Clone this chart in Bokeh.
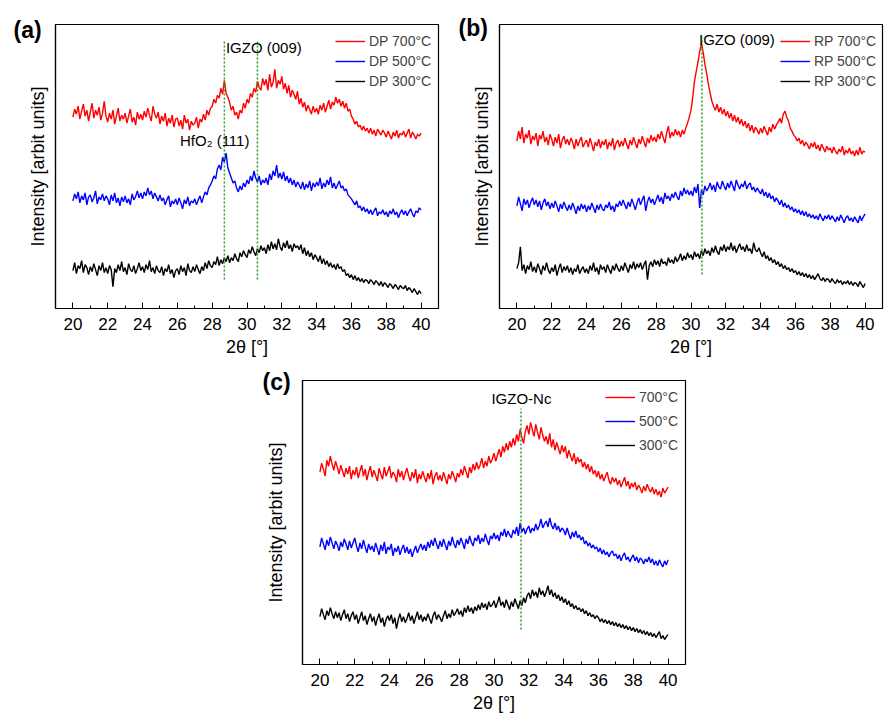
from bokeh.plotting import figure
from bokeh.models import Range1d, FixedTicker, Label, Spacer
from bokeh.layouts import column, row
from bokeh.embed import file_html
from bokeh.resources import INLINE

# scans run 20-40 deg with a 0.1 deg step, intensities in arbitrary units (offset per curve)
TT_START = 20.0
TT_STEP = 0.1

x_ticks = [20, 22, 24, 26, 28, 30, 32, 34, 36, 38, 40]
x_minor = [21, 23, 25, 27, 29, 31, 33, 35, 37, 39]

# (a) DP samples
dp700 = [192, 200, 195, 203, 190, 198, 205, 193, 199, 188,
         197, 206, 191, 199, 194, 202, 189, 196, 208, 193,
         187, 196, 190, 199, 185, 193, 201, 188, 194, 190,
         196, 186, 193, 200, 187, 192, 184, 197, 190, 195,
         189, 198, 192, 201, 194, 188, 203, 195, 191, 197,
         185, 193, 188, 196, 183, 191, 186, 194, 182, 190,
         191, 183, 189, 180, 194, 186, 190, 179, 188, 184,
         186, 192, 181, 190, 187, 195, 189, 199, 194, 201,
         203, 210, 206, 214, 211, 221, 215, 229, 216, 212,
         207, 199, 203, 194, 197, 190, 199, 196, 206, 201,
         210, 206, 216, 212, 221, 217, 228, 222, 219, 231,
         224, 230, 219, 235, 222, 227, 240, 221, 229, 225,
         233, 220, 226, 216, 224, 212, 219, 215, 210, 218,
         205, 211, 202, 207, 198, 204, 200, 195, 203, 197,
         201, 195, 204, 199, 206, 197, 203, 209, 200, 207,
         204, 212, 206, 210, 203, 208, 201, 206, 198, 200,
         193, 190, 185, 188, 182, 184, 179, 183, 178, 181,
         176, 181, 175, 179, 173, 180, 177, 174, 179, 176,
         172, 178, 174, 170, 177, 173, 179, 171, 176, 174,
         178, 172, 176, 180, 171, 177, 174, 170, 175, 173,
         176]
dp500 = [108, 115, 110, 117, 106, 113, 109, 116, 104, 112,
         114, 107, 111, 118, 105, 112, 109, 115, 108, 113,
         110, 104, 114, 108, 116, 106, 111, 103, 112, 107,
         113, 106, 110, 104, 115, 109, 112, 118, 111, 116,
         110, 117, 113, 121, 114, 118, 110, 116, 112, 108,
         114, 108, 111, 104, 109, 113, 102, 108, 105, 110,
         104, 111, 106, 100, 109, 105, 112, 103, 108, 106,
         110, 104, 109, 113, 106, 112, 117, 114, 121, 124,
         128, 133, 130, 140, 144, 139, 152, 147, 156, 141,
         136, 131, 126, 128, 121, 117, 123, 119, 126, 122,
         129, 125, 133, 128, 138, 131, 127, 133, 124, 129,
         126, 131, 124, 135, 129, 138, 133, 144, 131, 136,
         130, 137, 128, 133, 126, 131, 124, 129, 122, 127,
         124, 120, 127, 119, 125, 121, 128, 118, 126, 122,
         127, 123, 131, 120, 126, 122, 129, 124, 132, 121,
         126, 120, 124, 128, 121, 123, 118, 120, 114, 112,
         110, 107, 104, 108, 101, 103, 98, 102, 97, 100,
         95, 99, 94, 98, 101, 93, 97, 95, 99, 94,
         97, 92, 98, 95, 100, 94, 97, 91, 96, 99,
         94, 98, 93, 97, 100, 95, 92, 98, 96, 101,
         99]
dp300 = [38, 46, 35, 43, 40, 48, 36, 44, 41, 34,
         42, 37, 45, 39, 33, 43, 38, 46, 36, 41,
         35, 43, 39, 22, 40, 36, 44, 38, 47, 37,
         41, 34, 45, 39, 37, 43, 35, 40, 46, 38,
         42, 36, 44, 39, 48, 37, 41, 35, 43, 38,
         36, 42, 33, 40, 37, 44, 35, 39, 31, 38,
         40, 34, 43, 37, 41, 33, 45, 38, 36, 42,
         37, 44, 39, 35, 42, 38, 46, 40, 48, 43,
         41, 47, 44, 52, 43, 49, 45, 51, 47, 53,
         46, 51, 48, 55, 50, 47, 56, 52, 58, 54,
         51, 59, 55, 62, 57, 53, 60, 56, 63, 58,
         61, 55, 64, 58, 67, 60, 65, 59, 70, 62,
         58, 66, 61, 68, 60, 64, 57, 65, 61, 63,
         59, 64, 55, 61, 53, 58, 52, 56, 49, 54,
         51, 47, 53, 45, 50, 44, 48, 42, 46, 41,
         44, 39, 45, 40, 42, 37, 39, 33, 35, 31,
         34, 29, 33, 28, 31, 27, 30, 26, 29, 28,
         25, 29, 27, 24, 28, 26, 23, 27, 22, 26,
         24, 21, 25, 23, 20, 24, 22, 19, 23, 21,
         20, 23, 18, 21, 19, 16, 20, 17, 14, 18,
         15]

# (b) RP samples
rp700 = [168, 178, 170, 182, 166, 175, 171, 179, 165, 173,
         169, 176, 163, 174, 170, 178, 167, 172, 164, 175,
         170, 163, 172, 166, 175, 161, 169, 173, 165, 170,
         164, 171, 167, 160, 170, 163, 168, 172, 162, 166,
         169, 162, 171, 165, 158, 167, 163, 170, 161, 168,
         164, 170, 160, 167, 163, 171, 159, 166, 169, 162,
         168, 163, 171, 165, 160, 169, 164, 172, 166, 161,
         170, 165, 173, 167, 162, 171, 166, 174, 168, 172,
         167, 175, 170, 178, 172, 166, 176, 183, 171, 177,
         173, 180, 174, 178, 172, 179, 175, 181, 186, 192,
         199, 212, 228, 238, 247, 258, 266, 257, 245, 236,
         225, 216, 208, 203, 199, 205, 197, 202, 195, 200,
         193, 198, 191, 196, 188, 194, 187, 192, 185, 190,
         183, 188, 181, 186, 178, 184, 176, 182, 179, 175,
         181, 176, 183, 178, 174, 182, 177, 185, 180, 184,
         187, 191, 186, 195, 198, 192, 188, 181, 178, 174,
         172, 168, 171, 165, 169, 163, 167, 164, 160, 166,
         162, 167, 160, 164, 158, 165, 161, 157, 163, 159,
         161, 156, 162, 158, 155, 160, 157, 163, 154, 159,
         156, 161, 155, 158, 153, 159, 154, 162, 155, 158,
         157]
rp500 = [103, 112, 105, 98, 110, 104, 109, 101, 107, 111,
         104, 109, 102, 108, 99, 106, 110, 103, 107, 100,
         106, 101, 108, 103, 97, 105, 100, 107, 102, 98,
         104, 99, 106, 101, 95, 103, 98, 105, 100, 104,
         97, 103, 99, 106, 101, 96, 104, 99, 105, 100,
         98, 104, 101, 107, 99, 103, 97, 105, 102, 108,
         103, 109, 104, 100, 107, 102, 110, 105, 99, 106,
         111, 104, 109, 113, 98, 107, 112, 106, 110, 104,
         109, 114, 107, 112, 105, 116, 110, 113, 108, 115,
         111, 117, 112, 109, 118, 113, 121, 115, 119, 114,
         118, 113, 122, 116, 125, 101, 119, 114, 123, 118,
         121, 126, 119, 124, 117, 127, 122, 120, 128, 123,
         119, 126, 121, 128, 123, 118, 129, 124, 120, 125,
         122, 128, 120, 124, 126, 119, 122, 117, 121, 118,
         115, 120, 113, 117, 111, 116, 110, 113, 107, 111,
         108, 104, 109, 102, 106, 101, 104, 99, 102, 97,
         100, 96, 99, 94, 98, 93, 97, 92, 95, 91,
         94, 90, 93, 89, 95, 91, 88, 93, 90, 94,
         89, 93, 90, 87, 92, 88, 94, 90, 86, 91,
         93, 88, 91, 87, 92, 89, 86, 93, 88, 92,
         95]
rp300 = [40, 46, 62, 38, 44, 35, 43, 39, 47, 37,
         42, 36, 45, 40, 34, 43, 38, 46, 39, 35,
         41, 37, 44, 33, 40, 45, 36, 42, 38, 43,
         36, 41, 34, 40, 37, 44, 35, 39, 42, 36,
         40, 35, 43, 38, 46, 37, 41, 34, 44, 39,
         42, 36, 44, 39, 35, 43, 38, 45, 40, 37,
         43, 38, 46, 41, 36, 44, 40, 47, 39, 45,
         41, 46, 39, 44, 48, 29, 43, 47, 42, 49,
         44, 48, 42, 50, 45, 47, 43, 51, 46, 49,
         45, 52, 47, 50, 55, 48, 53, 49, 56, 51,
         54, 49, 57, 52, 55, 50, 58, 53, 60, 55,
         58, 53, 61, 56, 63, 57, 54, 62, 58, 64,
         57, 62, 59, 66, 58, 63, 56, 61, 65, 59,
         62, 57, 64, 58, 60, 55, 66, 59, 57, 61,
         56, 52, 57, 50, 53, 48, 51, 46, 49, 44,
         47, 42, 45, 40, 43, 39, 41, 37, 40, 36,
         38, 34, 37, 33, 36, 32, 35, 31, 34, 30,
         33, 29, 32, 35, 30, 28, 31, 27, 30, 29,
         26, 30, 27, 25, 29, 26, 28, 24, 27, 25,
         28, 24, 27, 23, 26, 25, 22, 27, 24, 21,
         25]

# (c) IGZO-Nc samples
nc700 = [193, 202, 196, 189, 205, 199, 209, 201, 195, 204,
         198, 191, 200, 194, 188, 197, 191, 199, 186, 195,
         190, 198, 187, 194, 200, 189, 196, 185, 193, 199,
         188, 195, 190, 184, 197, 191, 186, 198, 189, 194,
         199, 187, 193, 190, 183, 196, 188, 194, 185, 192,
         197, 189, 184, 193, 187, 196, 182, 191, 186, 194,
         188, 183, 192, 186, 195, 181, 189, 193, 185, 190,
         184, 193, 187, 181, 191, 186, 194, 189, 183, 192,
         188, 196, 190, 199, 193, 187, 198, 192, 201, 195,
         203, 196, 200, 207, 197, 204, 199, 209, 202, 206,
         212, 204, 210, 216, 208, 219, 213, 222, 215, 224,
         218, 227, 220, 231, 224, 236, 228, 222, 234, 240,
         231, 243, 236, 229, 241, 233, 226, 238, 230, 224,
         229, 221, 232, 218, 226, 215, 223, 217, 211, 220,
         213, 219, 207, 215, 209, 204, 212, 201, 208, 203,
         206, 198, 203, 196, 201, 193, 199, 191, 195, 188,
         194, 186, 191, 184, 189, 193, 185, 181, 188, 183,
         187, 180, 185, 178, 183, 188, 179, 184, 176, 182,
         178, 183, 175, 180, 177, 172, 179, 174, 181, 176,
         173, 178, 171, 176, 170, 174, 168, 177, 172, 175,
         178]
nc500 = [118, 127, 121, 115, 125, 119, 128, 122, 116, 124,
         120, 114, 123, 118, 126, 121, 115, 124, 117, 122,
         127, 119, 113, 122, 116, 125, 118, 112, 121, 115,
         119, 113, 122, 116, 110, 120, 114, 123, 111, 118,
         115, 121, 109, 117, 113, 119, 110, 116, 120, 112,
         118, 111, 116, 108, 114, 119, 112, 117, 121, 115,
         120, 114, 123, 117, 125, 119, 127, 121, 116, 124,
         118, 126, 120, 115, 124, 119, 128, 121, 117, 125,
         120, 127, 122, 116, 126, 121, 129, 123, 119, 127,
         124, 130, 121, 127, 123, 131, 125, 120, 129, 126,
         132, 126, 130, 124, 133, 129, 136, 128, 134, 130,
         127, 135, 131, 138, 129, 142, 133, 137, 131, 136,
         139, 132, 137, 134, 141, 135, 139, 146, 137, 141,
         144, 138, 147, 140, 136, 142, 135, 139, 133, 137,
         135, 130, 137, 131, 126, 133, 128, 134, 127, 130,
         125, 128, 121, 124, 119, 122, 117, 120, 116, 118,
         113, 117, 111, 115, 110, 113, 108, 112, 114, 109,
         111, 106, 110, 104, 109, 112, 105, 108, 103, 107,
         110, 104, 108, 102, 107, 105, 101, 106, 103, 108,
         102, 106, 100, 104, 99, 105, 101, 98, 104, 100,
         105]
nc300 = [48, 56, 50, 45, 54, 49, 57, 51, 46, 53,
         47, 52, 44, 50, 55, 46, 51, 43, 49, 53,
         45, 50, 41, 47, 53, 44, 49, 40, 46, 51,
         43, 48, 39, 46, 51, 42, 47, 38, 45, 49,
         44, 50, 41, 47, 36, 45, 51, 43, 48, 42,
         46, 52, 44, 49, 41, 47, 53, 45, 50, 43,
         48, 44, 51, 46, 41, 49, 53, 45, 50, 47,
         43, 49, 54, 46, 51, 47, 55, 49, 52, 56,
         50, 54, 48, 57, 52, 59, 53, 57, 51, 58,
         54, 60, 55, 62, 57, 61, 55, 63, 58, 60,
         64, 57, 62, 68, 59, 63, 57, 65, 60, 55,
         63, 58, 66, 61, 56, 64, 59, 67, 62, 69,
         72, 66, 75, 69, 73, 67, 77, 70, 74, 68,
         73, 79, 70, 75, 68, 72, 66, 70, 64, 68,
         62, 66, 60, 64, 58, 61, 56, 59, 55, 57,
         53, 56, 51, 54, 49, 52, 48, 50, 46, 49,
         47, 43, 46, 42, 45, 41, 44, 40, 43, 39,
         42, 38, 41, 37, 40, 36, 39, 35, 38, 34,
         37, 33, 36, 32, 35, 31, 34, 30, 33, 29,
         32, 28, 31, 27, 30, 33, 26, 29, 25, 28,
         30]

# dotted reference lines: 2theta positions and vertical extent
a_peaks = [28.7, 30.6]
a_peak_y = [29, 269]
b_peaks = [30.63]
b_peak_y = [34, 272]
c_peaks = [31.55]
c_peak_y = [35, 257]

FONT = "Liberation Sans"
COLORS = ["#ff0000", "#0000ff", "#000000"]
GREEN = "#22a022"


def two_theta(series):
    return [TT_START + TT_STEP * i for i in range(len(series))]


def make_panel(tag, tag_off, series, names, peaks, peak_y, notes,
               width, height, left, top, right, bottom,
               legend_loc, legend_spacing=0, ylabel_standoff=8):
    p = figure(width=width, height=height,
               x_range=Range1d(19, 41), y_range=Range1d(0, 285),
               output_backend="svg", toolbar_location=None,
               min_border_left=left, min_border_top=top,
               min_border_right=right, min_border_bottom=bottom,
               x_axis_label="2θ [°]", y_axis_label="Intensity [arbit units]")
    p.xgrid.visible = False
    p.ygrid.visible = False
    p.outline_line_color = "black"
    p.outline_line_width = 1.2
    p.background_fill_color = "white"
    p.border_fill_color = "white"

    # panel tag sits over the top-left corner, the title is pulled down into place
    p.title.text = tag
    p.title.align = "left"
    p.title.offset = tag_off[0]
    p.title.standoff = tag_off[1]
    p.title.text_font = FONT
    p.title.text_font_size = "23px"
    p.title.text_font_style = "bold"
    p.title.text_color = "black"

    for ys, name, col in zip(series, names, COLORS):
        p.line(two_theta(ys), ys, color=col, line_width=1.4, legend_label=name)

    p.segment(x0=peaks, y0=[peak_y[0]] * len(peaks), x1=peaks, y1=[peak_y[1]] * len(peaks),
              color=GREEN, line_width=1.5, line_dash="2 2")

    # x axis: ticks pointing inward, minor ticks at odd values
    p.xaxis.ticker = FixedTicker(ticks=x_ticks, minor_ticks=x_minor)
    p.xaxis.major_tick_in = 6
    p.xaxis.major_tick_out = 0
    p.xaxis.minor_tick_in = 3
    p.xaxis.minor_tick_out = 0
    p.xaxis.major_label_text_font = FONT
    p.xaxis.major_label_text_font_size = "17px"
    p.xaxis.major_label_text_color = "black"
    p.xaxis.major_label_standoff = 9
    p.xaxis.axis_label_standoff = 4

    # y axis: no ticks at all, only the label
    p.yaxis.ticker = FixedTicker(ticks=[])
    p.yaxis.major_tick_in = 0
    p.yaxis.major_tick_out = 0
    p.yaxis.axis_label_standoff = ylabel_standoff

    for ax in (p.xaxis, p.yaxis):
        ax.axis_line_color = "black"
        ax.axis_line_width = 1.2
        ax.major_tick_line_color = "black"
        ax.minor_tick_line_color = "black"
        ax.axis_label_text_font = FONT
        ax.axis_label_text_font_size = "18px"
        ax.axis_label_text_font_style = "normal"
        ax.axis_label_text_color = "black"

    p.legend.location = legend_loc
    p.legend.margin = 0
    p.legend.padding = 0
    p.legend.spacing = legend_spacing
    p.legend.glyph_width = 30
    p.legend.glyph_height = 20
    p.legend.label_height = 20
    p.legend.label_standoff = 4
    p.legend.label_text_font = FONT
    p.legend.label_text_font_size = "14px"
    p.legend.border_line_color = None
    p.legend.background_fill_alpha = 0

    for txt, x, y in notes:
        p.add_layout(Label(x=x, y=y, text=txt, text_font=FONT, text_font_size="15px",
                           text_baseline="middle", text_align="left", text_color="black"))
    return p


pa = make_panel("(a)", (-42, -37), [dp700, dp500, dp300],
                ["DP 700°C", "DP 500°C", "DP 300°C"], a_peaks, a_peak_y,
                [("IGZO (009)", 28.79, 262), ("HfO₂ (111)", 26.15, 169)],
                443, 359, 55, 24, 5, 50, (280, 217))
pb = make_panel("(b)", (-41, -33), [rp700, rp500, rp300],
                ["RP 700°C", "RP 500°C", "RP 300°C"], b_peaks, b_peak_y,
                [("IGZO (009)", 30.46, 270)],
                441, 359, 56, 24, 2, 50, (281, 217))
pc = make_panel("(c)", (-40, -29), [nc700, nc500, nc300],
                ["700°C", "500°C", "300°C"], c_peaks, c_peak_y,
                [("IGZO-Nc", 29.85, 267)],
                440, 356, 52, 21, 5, 50, (303, 209), legend_spacing=4, ylabel_standoff=17)

layout = column(row(pa, pb), row(Spacer(width=250, height=10), pc))

open("out.html", "w").write(file_html(layout, INLINE))
